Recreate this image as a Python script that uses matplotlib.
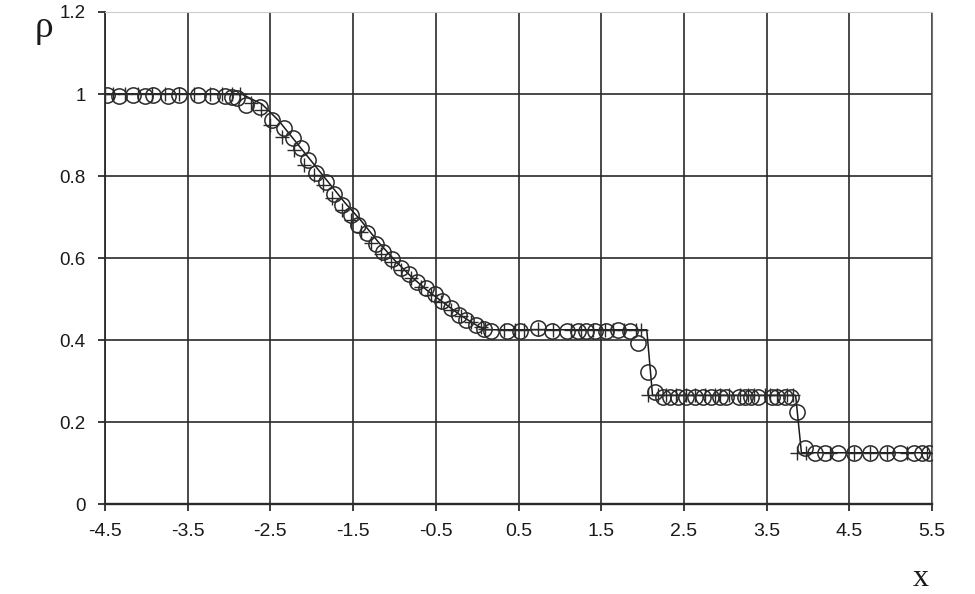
import matplotlib
matplotlib.use("Agg")
import matplotlib.pyplot as plt

# exact solution (line)
exact_x = [-4.5, -2.85, -2.6, -2.4, -2.2, -2.0, -1.8, -1.6, -1.4, -1.2, -1.0,
           -0.8, -0.6, -0.4, -0.2, 0.0, 0.1, 2.05, 2.12, 3.85, 3.92, 5.5]
exact_rho = [1.0, 1.0, 0.975, 0.935, 0.885, 0.835, 0.785, 0.735, 0.69, 0.64, 0.595,
             0.555, 0.52, 0.49, 0.46, 0.435, 0.425, 0.425, 0.265, 0.265, 0.125, 0.125]

# circles
circ_x = [-4.48, -4.33, -4.16, -4.02, -3.92, -3.74, -3.60, -3.38, -3.21, -3.05, -2.97, -2.91,
          -2.79, -2.63, -2.48, -2.33, -2.23, -2.13, -2.05, -1.95, -1.83, -1.73, -1.63, -1.52,
          -1.44, -1.33, -1.22, -1.14, -1.03, -0.92, -0.83, -0.73, -0.62, -0.51, -0.43, -0.32,
          -0.22, -0.13, -0.02, 0.08,
          0.17, 0.36, 0.52, 0.74, 0.90, 1.08, 1.22, 1.32, 1.43, 1.56, 1.70, 1.85,
          1.95, 2.07, 2.15,
          2.25, 2.33, 2.43, 2.52, 2.63, 2.73, 2.83, 2.94, 3.01, 3.16, 3.24, 3.31, 3.39,
          3.57, 3.63, 3.72, 3.79,
          3.87, 3.96,
          4.08, 4.20, 4.36, 4.56, 4.75, 4.96, 5.11, 5.28, 5.38, 5.46]
circ_rho = [0.997, 0.995, 0.997, 0.995, 0.997, 0.995, 0.997, 0.997, 0.995, 0.995, 0.993, 0.99,
            0.973, 0.968, 0.937, 0.917, 0.893, 0.868, 0.839, 0.807, 0.785, 0.756, 0.729, 0.705,
            0.68, 0.661, 0.634, 0.615, 0.598, 0.576, 0.561, 0.541, 0.527, 0.512, 0.495, 0.478,
            0.461, 0.449, 0.437, 0.427,
            0.422, 0.422, 0.422, 0.43, 0.422, 0.422, 0.422, 0.422, 0.422, 0.422, 0.425, 0.422,
            0.393, 0.322, 0.272,
            0.262, 0.262, 0.262, 0.262, 0.262, 0.262, 0.262, 0.262, 0.262, 0.262, 0.262, 0.262, 0.262,
            0.262, 0.262, 0.262, 0.262,
            0.224, 0.137,
            0.124, 0.124, 0.124, 0.124, 0.124, 0.124, 0.124, 0.124, 0.124, 0.124]

# plus markers
plus_x = [-4.5, -4.40, -4.26, -4.10, -3.93, -3.78, -3.60, -3.42, -3.23, -3.09, -2.97, -2.87,
          -2.73, -2.61, -2.51, -2.36, -2.21, -2.09, -1.97, -1.87, -1.75, -1.63, -1.52, -1.40,
          -1.28, -1.16, -1.04, -0.92, -0.80, -0.68, -0.56, -0.44, -0.32, -0.20, -0.08, 0.04,
          0.10, 0.32, 0.46, 0.56, 0.74, 0.92, 1.14, 1.26, 1.40, 1.55, 1.64, 1.77, 1.92, 1.98,
          2.07, 2.19, 2.28, 2.40, 2.52, 2.63, 2.75, 2.87, 2.94, 3.05, 3.18, 3.27, 3.35, 3.48,
          3.54, 3.63, 3.75, 3.82,
          3.87, 3.97, 4.27, 4.56, 4.75, 4.96, 5.20, 5.44]
plus_rho = [1.0, 1.0, 1.0, 1.0, 1.0, 1.0, 1.0, 1.0, 1.0, 1.0, 1.0, 1.0,
            0.978, 0.961, 0.924, 0.895, 0.863, 0.827, 0.802, 0.778, 0.746, 0.717, 0.693, 0.663,
            0.637, 0.61, 0.59, 0.571, 0.551, 0.529, 0.51, 0.493, 0.473, 0.459, 0.444, 0.432,
            0.427, 0.425, 0.425, 0.425, 0.427, 0.425, 0.425, 0.425, 0.425, 0.425, 0.425, 0.425, 0.425, 0.425,
            0.266, 0.266, 0.266, 0.266, 0.266, 0.266, 0.266, 0.266, 0.266, 0.266, 0.266, 0.266, 0.266, 0.266,
            0.266, 0.266, 0.266, 0.266,
            0.125, 0.125, 0.125, 0.125, 0.125, 0.125, 0.125, 0.125]

xticks = [-4.5, -3.5, -2.5, -1.5, -0.5, 0.5, 1.5, 2.5, 3.5, 4.5, 5.5]
yticks = [0, 0.2, 0.4, 0.6, 0.8, 1.0, 1.2]
ytick_labels = ["0", "0.2", "0.4", "0.6", "0.8", "1", "1.2"]

plt.rcParams['font.family'] = ['Liberation Sans', 'DejaVu Sans']

fig = plt.figure(figsize=(9.75, 5.94), dpi=100)
ax = fig.add_axes([0.1077, 0.1515, 0.8483, 0.8283])

ax.plot(exact_x, exact_rho, color='#1a1a1a', lw=1.1, zorder=3)
ax.plot(plus_x, plus_rho, ls='none', marker='+', ms=9.5, mew=1.0, color='#2a2a2a', zorder=4)
ax.plot(circ_x, circ_rho, ls='none', marker='o', ms=11, mew=1.1, mfc='none', mec='#2a2a2a', zorder=5)

ax.set_xlim(-4.5, 5.5)
ax.set_ylim(0, 1.2)
ax.set_xticks(xticks)
ax.set_xticklabels([str(t) for t in xticks])
ax.set_yticks(yticks)
ax.set_yticklabels(ytick_labels)
ax.grid(True, color='#2a2a2a', lw=1.2)
ax.set_axisbelow(True)

ax.tick_params(axis='x', direction='out', length=5, width=1.2, pad=9, labelsize=14, colors='#1a1a1a')
ax.tick_params(axis='y', direction='out', length=5, width=1.2, pad=9, labelsize=13.5, colors='#1a1a1a')
ax.spines['left'].set_color('#2a2a2a')
ax.spines['left'].set_linewidth(1.3)
ax.spines['bottom'].set_color('#2a2a2a')
ax.spines['bottom'].set_linewidth(1.7)
ax.spines['top'].set_color('#cccccc')
ax.spines['right'].set_color('#777777')

fig.text(44 / 975, 1 - 28 / 594, 'ρ', family=['Liberation Serif', 'DejaVu Serif'],
         fontsize=27, ha='center', va='center', color='#1a1a1a')
fig.text(921 / 975, 1 - 579 / 594, 'x', family=['Liberation Serif', 'DejaVu Serif'],
         fontsize=23, ha='center', va='center', color='#1a1a1a')

fig.savefig('out.png', dpi=100)
